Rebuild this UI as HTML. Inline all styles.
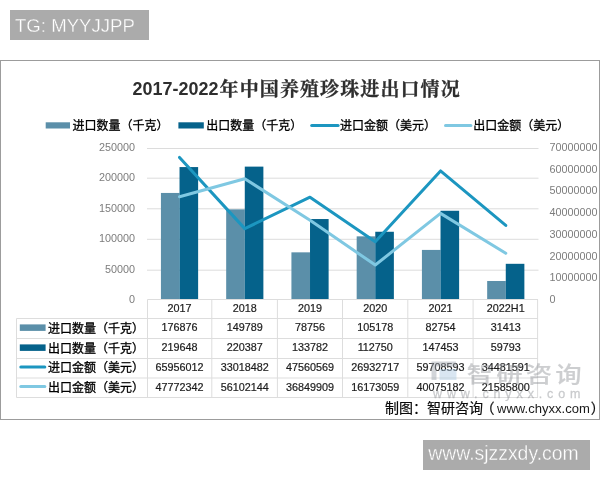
<!DOCTYPE html>
<html lang="zh-CN"><head><meta charset="utf-8"><title>2017-2022年中国养殖珍珠进出口情况</title>
<style>
html,body{margin:0;padding:0;background:#fff;}
body{width:600px;height:480px;overflow:hidden;position:relative;}
svg{position:absolute;left:0;top:0;display:block;}
text{font-family:"Liberation Sans", "Noto Sans CJK SC", sans-serif;}
.num{font-size:10.8px;fill:#1c1c1c;stroke:#1c1c1c;stroke-width:0.2px;text-anchor:middle;}
.ax{font-size:10.8px;fill:#7c7c7c;}
.lg{font-size:12px;fill:#000;stroke:#000;stroke-width:0.3px;}
.ttl{font-family:"Liberation Sans","Noto Serif CJK SC",serif;font-weight:bold;fill:#2e2e2e;font-size:20.15px;}
.tc{font-size:19px;letter-spacing:1.1px;font-weight:700;stroke:#2e2e2e;stroke-width:0.3px;}
.src{font-size:14px;fill:#0a0a0a;stroke:#0a0a0a;stroke-width:0.2px;}
.wm1{font-size:22px;font-weight:500;letter-spacing:2.6px;fill:#8e9196;stroke:#8e9196;stroke-width:0.15px;}
.wm2{font-size:12.5px;fill:#85888d;stroke:#85888d;stroke-width:0.3px;}
</style></head><body>
<svg width="600" height="480" viewBox="0 0 600 480">
<rect x="0" y="0" width="600" height="480" fill="#ffffff"/>
<rect x="10" y="10" width="139" height="30" fill="#ababab"/>
<text x="15" y="32" font-size="18.6" fill="#ffffff" stroke="#ababab" stroke-width="0.35">TG: MYYJJPP</text>
<rect x="0.5" y="60.5" width="599" height="359" fill="#ffffff" stroke="#9c9c9c" stroke-width="1"/>
<text class="ttl" x="132.6" y="95.2"><tspan font-size="17.95">2017-2022</tspan><tspan class="tc" x="219.6" y="96.2">年中国养殖珍珠进出口情况</tspan></text>
<rect x="45.7" y="122.3" width="24.3" height="6.2" fill="#5b8fa9"/>
<text class="lg" x="72.4" y="130">进口数量（千克）</text>
<rect x="178.4" y="122.3" width="25.4" height="6.2" fill="#05628b"/>
<text class="lg" x="206.3" y="130">出口数量（千克）</text>
<line x1="311.7" y1="125.6" x2="338.1" y2="125.6" stroke="#1c96c0" stroke-width="3" stroke-linecap="round"/>
<text class="lg" x="340" y="130">进口金额（美元）</text>
<line x1="445.5" y1="125.6" x2="470.9" y2="125.6" stroke="#7fc8e2" stroke-width="3" stroke-linecap="round"/>
<text class="lg" x="473.2" y="130">出口金额（美元）</text>
<line x1="147" y1="270.20" x2="538.5" y2="270.20" stroke="#dcdcdc" stroke-width="1"/>
<line x1="147" y1="239.30" x2="538.5" y2="239.30" stroke="#dcdcdc" stroke-width="1"/>
<line x1="147" y1="208.80" x2="538.5" y2="208.80" stroke="#dcdcdc" stroke-width="1"/>
<line x1="147" y1="178.20" x2="538.5" y2="178.20" stroke="#dcdcdc" stroke-width="1"/>
<line x1="147" y1="148.50" x2="538.5" y2="148.50" stroke="#dcdcdc" stroke-width="1"/>
<text class="ax" x="135.1" y="303.20" text-anchor="end">0</text>
<text class="ax" x="135.1" y="272.74" text-anchor="end">50000</text>
<text class="ax" x="135.1" y="242.28" text-anchor="end">100000</text>
<text class="ax" x="135.1" y="211.82" text-anchor="end">150000</text>
<text class="ax" x="135.1" y="181.36" text-anchor="end">200000</text>
<text class="ax" x="135.1" y="150.90" text-anchor="end">250000</text>
<text class="ax" x="549.6" y="303.20" textLength="5.8">0</text>
<text class="ax" x="549.6" y="281.44" textLength="48">10000000</text>
<text class="ax" x="549.6" y="259.69" textLength="48">20000000</text>
<text class="ax" x="549.6" y="237.93" textLength="48">30000000</text>
<text class="ax" x="549.6" y="216.17" textLength="48">40000000</text>
<text class="ax" x="549.6" y="194.41" textLength="48">50000000</text>
<text class="ax" x="549.6" y="172.66" textLength="48">60000000</text>
<text class="ax" x="549.6" y="150.90" textLength="48">70000000</text>
<rect x="160.93" y="192.95" width="18.60" height="106.15" fill="#5b8fa9"/>
<rect x="179.53" y="167.07" width="18.60" height="132.03" fill="#05628b"/>
<rect x="226.18" y="209.35" width="18.60" height="89.75" fill="#5b8fa9"/>
<rect x="244.78" y="166.62" width="18.60" height="132.48" fill="#05628b"/>
<rect x="291.42" y="252.34" width="18.60" height="46.76" fill="#5b8fa9"/>
<rect x="310.02" y="219.04" width="18.60" height="80.06" fill="#05628b"/>
<rect x="356.67" y="236.35" width="18.60" height="62.75" fill="#5b8fa9"/>
<rect x="375.27" y="231.76" width="18.60" height="67.34" fill="#05628b"/>
<rect x="421.92" y="249.92" width="18.60" height="49.18" fill="#5b8fa9"/>
<rect x="440.52" y="210.76" width="18.60" height="88.34" fill="#05628b"/>
<rect x="487.17" y="280.99" width="18.60" height="18.11" fill="#5b8fa9"/>
<rect x="505.77" y="263.81" width="18.60" height="35.29" fill="#05628b"/>
<polyline points="179.53,157.44 244.78,228.63 310.02,197.20 375.27,241.79 440.52,170.94 505.77,225.47" fill="none" stroke="#1c96c0" stroke-width="3" stroke-linejoin="round" stroke-linecap="round"/>
<polyline points="179.53,196.74 244.78,178.74 310.02,220.35 375.27,265.04 440.52,213.38 505.77,253.34" fill="none" stroke="#7fc8e2" stroke-width="3" stroke-linejoin="round" stroke-linecap="round"/>
<line x1="147.5" y1="299.5" x2="538" y2="299.5" stroke="#dddddd" stroke-width="1"/>
<line x1="16.5" y1="318.5" x2="538" y2="318.5" stroke="#dddddd" stroke-width="1"/>
<line x1="16.5" y1="338.5" x2="538" y2="338.5" stroke="#dddddd" stroke-width="1"/>
<line x1="16.5" y1="358.5" x2="538" y2="358.5" stroke="#dddddd" stroke-width="1"/>
<line x1="16.5" y1="378" x2="538" y2="378" stroke="#dddddd" stroke-width="1"/>
<line x1="16.5" y1="397.5" x2="538" y2="397.5" stroke="#dddddd" stroke-width="1"/>
<line x1="147.5" y1="299.5" x2="147.5" y2="397.5" stroke="#dddddd" stroke-width="1"/>
<line x1="211.8" y1="299.5" x2="211.8" y2="397.5" stroke="#dddddd" stroke-width="1"/>
<line x1="277.4" y1="299.5" x2="277.4" y2="397.5" stroke="#dddddd" stroke-width="1"/>
<line x1="342.5" y1="299.5" x2="342.5" y2="397.5" stroke="#dddddd" stroke-width="1"/>
<line x1="407.8" y1="299.5" x2="407.8" y2="397.5" stroke="#dddddd" stroke-width="1"/>
<line x1="473.1" y1="299.5" x2="473.1" y2="397.5" stroke="#dddddd" stroke-width="1"/>
<line x1="537.6" y1="299.5" x2="537.6" y2="397.5" stroke="#dddddd" stroke-width="1"/>
<line x1="16.5" y1="318.5" x2="16.5" y2="397.5" stroke="#dddddd" stroke-width="1"/>
<rect x="19.8" y="324.40" width="25.8" height="6.5" fill="#5b8fa9"/>
<text class="lg" x="48" y="332.50">进口数量（千克）</text>
<rect x="19.8" y="344.40" width="25.8" height="6.5" fill="#05628b"/>
<text class="lg" x="48" y="352.50">出口数量（千克）</text>
<line x1="20.8" y1="367.00" x2="44.8" y2="367.00" stroke="#1c96c0" stroke-width="3" stroke-linecap="round"/>
<text class="lg" x="48" y="372.20">进口金额（美元）</text>
<line x1="20.8" y1="386.60" x2="44.8" y2="386.60" stroke="#7fc8e2" stroke-width="3" stroke-linecap="round"/>
<text class="lg" x="48" y="391.80">出口金额（美元）</text>
<text class="num" x="179.53" y="312.3">2017</text>
<text class="num" x="244.78" y="312.3">2018</text>
<text class="num" x="310.02" y="312.3">2019</text>
<text class="num" x="375.27" y="312.3">2020</text>
<text class="num" x="440.52" y="312.3">2021</text>
<text class="num" x="505.77" y="312.3">2022H1</text>
<text class="num" x="179.53" y="331.20">176876</text>
<text class="num" x="244.78" y="331.20">149789</text>
<text class="num" x="310.02" y="331.20">78756</text>
<text class="num" x="375.27" y="331.20">105178</text>
<text class="num" x="440.52" y="331.20">82754</text>
<text class="num" x="505.77" y="331.20">31413</text>
<text class="num" x="179.53" y="351.20">219648</text>
<text class="num" x="244.78" y="351.20">220387</text>
<text class="num" x="310.02" y="351.20">133782</text>
<text class="num" x="375.27" y="351.20">112750</text>
<text class="num" x="440.52" y="351.20">147453</text>
<text class="num" x="505.77" y="351.20">59793</text>
<text class="num" x="179.53" y="371.40">65956012</text>
<text class="num" x="244.78" y="371.40">33018482</text>
<text class="num" x="310.02" y="371.40">47560569</text>
<text class="num" x="375.27" y="371.40">26932717</text>
<text class="num" x="440.52" y="371.40">59708593</text>
<text class="num" x="505.77" y="371.40">34481591</text>
<text class="num" x="179.53" y="391.30">47772342</text>
<text class="num" x="244.78" y="391.30">56102144</text>
<text class="num" x="310.02" y="391.30">36849909</text>
<text class="num" x="375.27" y="391.30">16173059</text>
<text class="num" x="440.52" y="391.30">40075182</text>
<text class="num" x="505.77" y="391.30">21585800</text>
<g opacity="0.44">
<path d="M431.5 361.5 H456 V366.5 H436.5 V380 H431.5 Z" fill="#9aa1ab"/>
<rect x="439.5" y="369" width="17" height="11" fill="#a9c8e2"/>
<text class="wm1" transform="translate(466.8 382) scale(1.2 1)">智研咨询</text>
<text class="wm2" x="433" y="397.6" textLength="147.5" lengthAdjust="spacing">www.chyxx.com</text>
</g>
<text class="src" y="412.6"><tspan x="384.9">制图：智研咨询</tspan><tspan x="480.6">（</tspan><tspan x="497" font-size="13.05" stroke="none" fill="#1a1a1a">www.chyxx.com</tspan><tspan x="590.7">）</tspan></text>
<rect x="423" y="440" width="167" height="30" fill="#ababab"/>
<text x="428.2" y="460.3" font-size="19.4" fill="#ffffff" stroke="#ababab" stroke-width="0.35">www.sjzzxdy.com</text>
</svg>
</body></html>
